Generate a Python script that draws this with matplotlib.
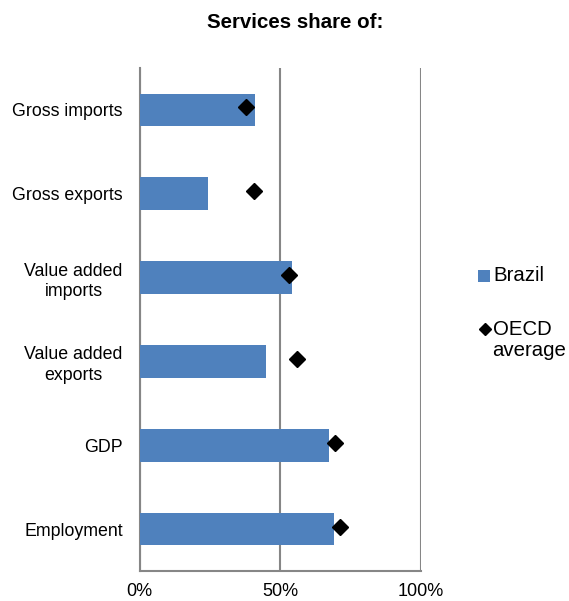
import matplotlib.pyplot as plt
import numpy as np
from matplotlib.lines import Line2D
from matplotlib.patches import Rectangle

# ============================================================
# Data (shares, %)
# ============================================================

categories = [
    "Gross imports",
    "Gross exports",
    "Value added\nimports",
    "Value added\nexports",
    "GDP",
    "Employment",
]
brazil = [41.1, 24.5, 54.4, 44.9, 67.5, 69.3]
oecd_average = [37.9, 40.9, 53.3, 56.2, 69.6, 71.4]
x_ticks = [0, 50, 100]
x_tick_labels = ["0%", "50%", "100%"]

# ============================================================
# Plot
# ============================================================

plt.rcParams["font.family"] = ["Liberation Sans", "DejaVu Sans"]

BAR_COLOR = "#4F81BD"
GRID_COLOR = "#868686"
W, H = 569, 601

fig = plt.figure(figsize=(W / 100, H / 100), dpi=100)
ax = fig.add_axes([139.5 / W, 1 - 571 / H, 281 / W, 503 / H])

y = np.arange(len(categories))

ax.barh(y, brazil, height=0.39, color=BAR_COLOR, zorder=3)
ax.plot(oecd_average, y - 0.03, linestyle="none", marker="D",
        markersize=8.5, color="black", zorder=4)

ax.set_xlim(0, 100)
ax.set_ylim(len(categories) - 0.5, -0.5)

ax.set_xticks(x_ticks)
ax.set_xticklabels(x_tick_labels, fontsize=13)
ax.set_yticks(y)
ax.set_yticklabels(categories, fontsize=12.8, multialignment="center",
                   linespacing=1.25)
ax.tick_params(axis="both", length=0, colors="black")
ax.tick_params(axis="x", pad=9)
ax.tick_params(axis="y", pad=12)

ax.grid(axis="x", color=GRID_COLOR, linewidth=1.5, zorder=1)
for side in ["top", "right"]:
    ax.spines[side].set_visible(False)
for side in ["left", "bottom"]:
    ax.spines[side].set_color(GRID_COLOR)
    ax.spines[side].set_linewidth(1.5)

fig.text(295 / W, 1 - 22 / H, "Services share of:",
         ha="center", va="center", fontsize=14.8, fontweight="bold")

# Legend, placed by hand to keep "average" under "OECD"
fig.add_artist(Rectangle((478 / W, 1 - 282 / H), 12 / W, 12 / H,
                         transform=fig.transFigure, facecolor=BAR_COLOR,
                         edgecolor="none"))
fig.text(493 / W, 1 - 281 / H, "Brazil", ha="left", va="baseline",
         fontsize=14.7)
fig.add_artist(Line2D([484.5 / W], [1 - 328.5 / H], transform=fig.transFigure,
                      linestyle="none", marker="D", markersize=6.5,
                      color="black"))
fig.text(492.5 / W, 1 - 335 / H, "OECD", ha="left", va="baseline",
         fontsize=14.7)
fig.text(492.5 / W, 1 - 356 / H, "average", ha="left", va="baseline",
         fontsize=14.7)

fig.savefig("out.png", dpi=100)
